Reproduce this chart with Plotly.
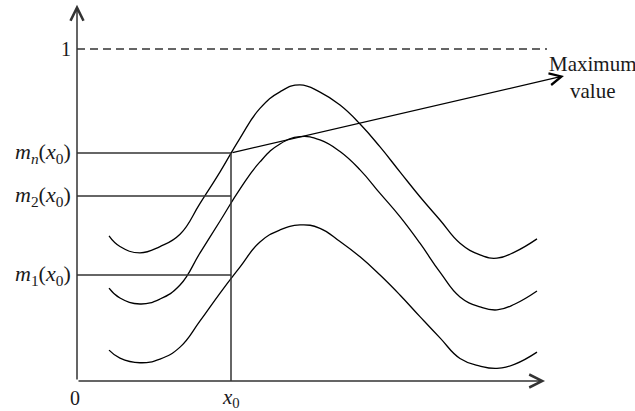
import plotly.graph_objects as go

# ---- data (x0 = 1, dashed level = 1) ----
curve_x = [0.208, 0.279, 0.409, 0.539, 0.669, 0.799, 0.929, 1.058, 1.188, 1.318, 1.448, 1.578,
           1.708, 1.838, 1.968, 2.097, 2.227, 2.357, 2.487, 2.617, 2.727, 2.844, 2.987]
curve_n = [0.437, 0.405, 0.386, 0.405, 0.442, 0.535, 0.630, 0.731, 0.821, 0.871, 0.892, 0.870,
           0.831, 0.774, 0.705, 0.630, 0.555, 0.485, 0.415, 0.380, 0.370, 0.389, 0.428]
curve_2 = [0.280, 0.250, 0.232, 0.247, 0.289, 0.386, 0.482, 0.578, 0.660, 0.714, 0.736, 0.726,
           0.691, 0.636, 0.565, 0.495, 0.415, 0.328, 0.253, 0.223, 0.214, 0.232, 0.271]
curve_1 = [0.093, 0.069, 0.055, 0.066, 0.102, 0.181, 0.265, 0.343, 0.419, 0.455, 0.470, 0.460,
           0.420, 0.374, 0.319, 0.259, 0.194, 0.130, 0.068, 0.045, 0.038, 0.051, 0.087]

x0 = 1.0
m_levels = {"m_n": 0.687, "m_2": 0.557, "m_1": 0.319}
upper_bound = 1.0
max_arrow_tip = (3.162, 0.919)
x_axis_end = 3.039
y_axis_end = 1.133
dash_end = 3.052

FONT = "Liberation Serif"
AX = "#333333"

fig = go.Figure()
for ys in [curve_n, curve_2, curve_1]:
    fig.add_trace(go.Scatter(x=curve_x, y=ys, mode="lines",
                             line=dict(color="black", width=1.3, shape="spline", smoothing=1.3),
                             hoverinfo="skip", showlegend=False))

# horizontal m lines and vertical x0 line
for key, val in m_levels.items():
    fig.add_shape(type="line", x0=0, x1=x0, y0=val, y1=val, line=dict(color=AX, width=1.5))
fig.add_shape(type="line", x0=x0, x1=x0, y0=0, y1=m_levels["m_n"], line=dict(color=AX, width=1.5))
# dashed line at 1
fig.add_shape(type="line", x0=0, x1=dash_end, y0=upper_bound, y1=upper_bound,
              line=dict(color=AX, width=1.3, dash="8px,5px"))

ann = []
# axes with arrows
ann.append(dict(x=x_axis_end, y=0, ax=0, ay=0, xref="x", yref="y", axref="x", ayref="y",
                text="", showarrow=True, arrowhead=5, arrowwidth=1.5, arrowsize=1.7, arrowcolor=AX))
ann.append(dict(x=0, y=y_axis_end, ax=0, ay=0, xref="x", yref="y", axref="x", ayref="y",
                text="", showarrow=True, arrowhead=5, arrowwidth=1.5, arrowsize=1.7, arrowcolor=AX))
# maximum value arrow
ann.append(dict(x=max_arrow_tip[0], y=max_arrow_tip[1], ax=x0, ay=m_levels["m_n"],
                xref="x", yref="y", axref="x", ayref="y",
                text="", showarrow=True, arrowhead=5, arrowwidth=1.3, arrowsize=1.8, arrowcolor="black"))

tf = dict(family=FONT, size=20, color="#1a1a1a")
ann.append(dict(x=3.35, y=0.913, xref="x", yref="y", text="Maximum<br>value",
                showarrow=False, font=dict(family=FONT, size=21, color="#1a1a1a"), align="center"))
ann.append(dict(x=0, y=upper_bound, xref="x", yref="y", text="1", showarrow=False,
                font=tf, xanchor="right", xshift=-4))
labels = {"m_n": "<i>m</i><sub><i>n</i></sub>(<i>x</i><sub>0</sub>)",
          "m_2": "<i>m</i><sub>2</sub>(<i>x</i><sub>0</sub>)",
          "m_1": "<i>m</i><sub>1</sub>(<i>x</i><sub>0</sub>)"}
lf = dict(family=FONT, size=22, color="#1a1a1a")
for key, val in m_levels.items():
    ann.append(dict(x=0, y=val, xref="x", yref="y", text=labels[key], showarrow=False,
                    font=lf, xanchor="right", xshift=-4))
ann.append(dict(x=0, y=0, xref="x", yref="y", text="0", showarrow=False,
                font=tf, yanchor="top", yshift=-4, xshift=-2))
ann.append(dict(x=x0, y=0, xref="x", yref="y", text="<i>x</i><sub>0</sub>", showarrow=False,
                font=dict(family=FONT, size=21, color="#1a1a1a"), yanchor="top", yshift=-2))

fig.update_layout(
    width=635, height=411,
    margin=dict(l=77, r=0, t=0, b=30),
    paper_bgcolor="white", plot_bgcolor="white",
    xaxis=dict(range=[0, 558 / 154], visible=False, fixedrange=True),
    yaxis=dict(range=[0, 381 / 332], visible=False, fixedrange=True),
    annotations=ann,
    showlegend=False,
)
fig.write_html("out.html", config={"displayModeBar": False},
               post_script="document.body.style.margin='0';document.body.style.overflow='hidden';")
